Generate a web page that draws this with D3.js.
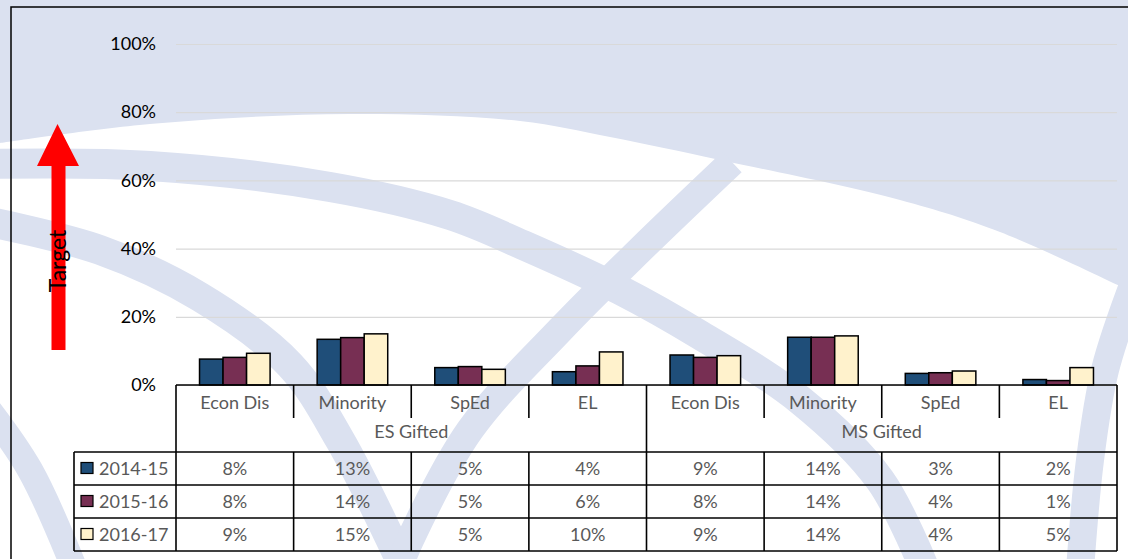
<!DOCTYPE html>
<html>
<head>
<meta charset="utf-8">
<script src="https://cdn.jsdelivr.net/npm/d3@7"></script>
<style>
body { margin: 0; background: #fff; }
svg { display: block; font-family: Lato, "Open Sans", sans-serif; }
</style>
</head>
<body>
<div id="chart"></div>
<script>
// data
var groups = ["ES Gifted", "MS Gifted"];
var categories = ["Econ Dis", "Minority", "SpEd", "EL"];
var years = ["2014-15", "2015-16", "2016-17"];
var v1415 = [0.076, 0.134, 0.051, 0.039, 0.088, 0.140, 0.034, 0.016];
var v1516 = [0.081, 0.139, 0.054, 0.056, 0.081, 0.140, 0.036, 0.013];
var v1617 = [0.093, 0.150, 0.046, 0.097, 0.086, 0.144, 0.041, 0.051];
var yTicks = [0, 0.2, 0.4, 0.6, 0.8, 1];
var colors = ["#1f4e79", "#772f53", "#fff2cc"];

var W = 1128, H = 559;
var plotLeft = 176, plotRight = 1117, plotTop = 44, plotBase = 385;
var catBottom = 418, groupBottom = 452, rowH = 33, legendLeft = 74;

var series = [v1415, v1516, v1617];
var cols = [];
groups.forEach(function(g) {
    categories.forEach(function(c) { cols.push({group: g, cat: c, key: g + "|" + c}) })
});

var svg = d3.select("#chart").append("svg")
    .attr("width", W)
    .attr("height", H);

// background watermark (globe)
var bgBlue = "#dbe1f0";
svg.append("rect").attr("width", W).attr("height", H).attr("fill", "#fff");
var curve = d3.line().curve(d3.curveCatmullRom);
var topEdge = [[1128, 290], [1000, 232], [900, 200], [720, 160], [610, 137], [520, 121], [350, 114], [150, 124], [0, 143]];
svg.append("path")
    .attr("d", "M0,0L1128,0L" + curve(topEdge).slice(1) + "Z")
    .attr("fill", bgBlue);
var bands = [
    {w: 30, p: [[-10, 164], [150, 166], [330, 187], [450, 215], [523, 245], [620, 290], [700, 335], [800, 400], [880, 480], [925, 570]]},
    {w: 30, p: [[-10, 222], [100, 250], [200, 297], [290, 365], [340, 440], [405, 570]]},
    {w: 28, p: [[732, 162], [640, 250], [560, 330], [470, 430], [410, 540], [398, 570]]},
    {w: 28, p: [[1135, 280], [1105, 370], [1090, 460], [1080, 570]]},
    {w: 26, p: [[-15, 405], [30, 470], [75, 570]]}
];
svg.append("g").selectAll("path").data(bands).enter()
    .append("path")
    .attr("d", function(d) { return curve(d.p) })
    .attr("fill", "none")
    .attr("stroke", bgBlue)
    .attr("stroke-width", function(d) { return d.w });

// outer frame
svg.append("rect")
    .attr("x", 11).attr("y", 7)
    .attr("width", 1140).attr("height", 580)
    .attr("fill", "none")
    .attr("stroke", "#000")
    .attr("stroke-width", 1.5);

var x = d3.scaleBand().domain(cols.map(function(d) { return d.key })).range([plotLeft, plotRight]);
var bw = x.bandwidth();
var xs = d3.scaleBand().domain(years).range([bw * 0.2, bw * 0.8]);
var y = d3.scaleLinear().domain([0, 1]).range([plotBase, plotTop]);

var yAxis = svg.append("g")
    .attr("transform", "translate(" + plotLeft + ",0)")
    .call(d3.axisLeft(y).tickValues(yTicks).tickFormat(d3.format(".0%"))
          .tickSize(-(plotRight - plotLeft)).tickPadding(20));
yAxis.select(".domain").remove();
yAxis.selectAll("line").attr("stroke", "#d9d9d9").attr("stroke-width", 1.2);
yAxis.selectAll("text").attr("fill", "#000").style("font-size", "18px").style("font-family", "Lato, sans-serif");

// bars
var barG = svg.append("g");
series.forEach(function(vals, si) {
    barG.selectAll(".bar" + si).data(vals).enter()
	.append("rect")
	.attr("x", function(d, i) { return x(cols[i].key) + xs(years[si]) })
	.attr("y", function(d) { return y(d) })
	.attr("width", xs.bandwidth())
	.attr("height", function(d) { return y(0) - y(d) })
	.attr("fill", colors[si])
	.attr("stroke", "#000")
	.attr("stroke-width", 1.5);
});

// data table under the chart
var tbl = svg.append("g").attr("stroke", "#000").attr("stroke-width", 1.6).attr("fill", "none");
var rowTops = years.map(function(d, i) { return groupBottom + i * rowH });
var tableBottom = groupBottom + years.length * rowH;

tbl.append("line").attr("x1", plotLeft).attr("x2", plotRight).attr("y1", plotBase).attr("y2", plotBase);
rowTops.concat([tableBottom]).forEach(function(ry) {
    tbl.append("line").attr("x1", legendLeft).attr("x2", plotRight).attr("y1", ry).attr("y2", ry);
});
tbl.append("line").attr("x1", legendLeft).attr("x2", legendLeft).attr("y1", groupBottom).attr("y2", tableBottom);
cols.forEach(function(c, i) {
    var cx = x(c.key);
    var groupEdge = i % categories.length == 0;
    tbl.append("line").attr("x1", cx).attr("x2", cx)
	.attr("y1", plotBase).attr("y2", groupEdge ? tableBottom : catBottom);
    if (!groupEdge)
	tbl.append("line").attr("x1", cx).attr("x2", cx).attr("y1", groupBottom).attr("y2", tableBottom);
});
tbl.append("line").attr("x1", plotRight).attr("x2", plotRight).attr("y1", plotBase).attr("y2", tableBottom);

var txt = svg.append("g").attr("fill", "#595959").style("font-size", "18px").attr("text-anchor", "middle");
cols.forEach(function(c) {
    txt.append("text")
	.attr("x", x(c.key) + bw / 2).attr("y", (plotBase + catBottom) / 2 + 1)
	.attr("dy", "0.35em")
	.text(c.cat);
});
groups.forEach(function(g, gi) {
    var x0 = x(g + "|" + categories[0]);
    var x1 = x(g + "|" + categories[categories.length - 1]) + bw;
    txt.append("text")
	.attr("x", (x0 + x1) / 2).attr("y", (catBottom + groupBottom) / 2 - 3)
	.attr("dy", "0.35em")
	.text(g);
});
series.forEach(function(vals, si) {
    var cy = rowTops[si] + rowH / 2;
    vals.forEach(function(v, i) {
	txt.append("text")
	    .attr("x", x(cols[i].key) + bw / 2).attr("y", cy)
	    .attr("dy", "0.35em")
	    .text(Math.round(v * 100) + "%");
    });
    svg.append("rect")
	.attr("x", 81).attr("y", cy - 6)
	.attr("width", 12).attr("height", 11)
	.attr("fill", colors[si])
	.attr("stroke", "#000")
	.attr("stroke-width", 1.2);
    txt.append("text")
	.attr("x", 99).attr("y", cy)
	.attr("dy", "0.35em")
	.attr("text-anchor", "start")
	.text(years[si]);
});

// red "Target" arrow
var arrow = d3.path();
arrow.moveTo(51.5, 350);
arrow.lineTo(51.5, 166);
arrow.lineTo(37, 166);
arrow.lineTo(57.5, 124);
arrow.lineTo(79, 166);
arrow.lineTo(65.5, 166);
arrow.lineTo(65.5, 350);
arrow.closePath();
svg.append("path").attr("d", arrow.toString()).attr("fill", "#ff0000");
svg.append("text")
    .attr("transform", "translate(58,261) rotate(-90)")
    .attr("text-anchor", "middle")
    .attr("dy", "0.35em")
    .style("font-size", "23px")
    .attr("fill", "#000")
    .text("Target");
</script>
</body>
</html>
